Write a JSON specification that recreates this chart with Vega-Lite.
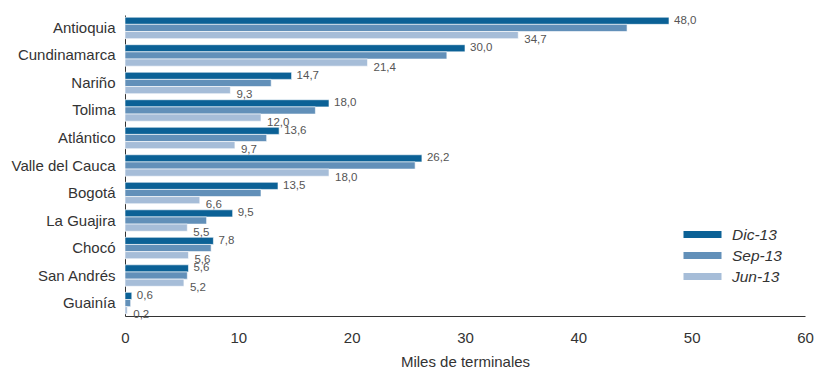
{
  "$schema": "https://vega.github.io/schema/vega-lite/v6.json",
  "width": 680,
  "height": 301,
  "autosize": "none",
  "padding": {"left": 125, "top": 15, "right": 10, "bottom": 53},
  "config": {
    "view": {"stroke": null},
    "font": "Liberation Sans",
    "locale": {"number": {"decimal": ",", "thousands": ".", "grouping": [3], "currency": ["$", ""]}}
  },
  "data": {
    "values": [
      {"depto": "Antioquia", "periodo": "Dic-13", "valor": 48.0},
      {"depto": "Antioquia", "periodo": "Sep-13", "valor": 44.3},
      {"depto": "Antioquia", "periodo": "Jun-13", "valor": 34.7},
      {"depto": "Cundinamarca", "periodo": "Dic-13", "valor": 30.0},
      {"depto": "Cundinamarca", "periodo": "Sep-13", "valor": 28.4},
      {"depto": "Cundinamarca", "periodo": "Jun-13", "valor": 21.4},
      {"depto": "Nariño", "periodo": "Dic-13", "valor": 14.7},
      {"depto": "Nariño", "periodo": "Sep-13", "valor": 12.9},
      {"depto": "Nariño", "periodo": "Jun-13", "valor": 9.3},
      {"depto": "Tolima", "periodo": "Dic-13", "valor": 18.0},
      {"depto": "Tolima", "periodo": "Sep-13", "valor": 16.8},
      {"depto": "Tolima", "periodo": "Jun-13", "valor": 12.0},
      {"depto": "Atlántico", "periodo": "Dic-13", "valor": 13.6},
      {"depto": "Atlántico", "periodo": "Sep-13", "valor": 12.5},
      {"depto": "Atlántico", "periodo": "Jun-13", "valor": 9.7},
      {"depto": "Valle del Cauca", "periodo": "Dic-13", "valor": 26.2},
      {"depto": "Valle del Cauca", "periodo": "Sep-13", "valor": 25.6},
      {"depto": "Valle del Cauca", "periodo": "Jun-13", "valor": 18.0},
      {"depto": "Bogotá", "periodo": "Dic-13", "valor": 13.5},
      {"depto": "Bogotá", "periodo": "Sep-13", "valor": 12.0},
      {"depto": "Bogotá", "periodo": "Jun-13", "valor": 6.6},
      {"depto": "La Guajira", "periodo": "Dic-13", "valor": 9.5},
      {"depto": "La Guajira", "periodo": "Sep-13", "valor": 7.2},
      {"depto": "La Guajira", "periodo": "Jun-13", "valor": 5.5},
      {"depto": "Chocó", "periodo": "Dic-13", "valor": 7.8},
      {"depto": "Chocó", "periodo": "Sep-13", "valor": 7.6},
      {"depto": "Chocó", "periodo": "Jun-13", "valor": 5.6},
      {"depto": "San Andrés", "periodo": "Dic-13", "valor": 5.6},
      {"depto": "San Andrés", "periodo": "Sep-13", "valor": 5.5},
      {"depto": "San Andrés", "periodo": "Jun-13", "valor": 5.2},
      {"depto": "Guainía", "periodo": "Dic-13", "valor": 0.6},
      {"depto": "Guainía", "periodo": "Sep-13", "valor": 0.5},
      {"depto": "Guainía", "periodo": "Jun-13", "valor": 0.2}
    ]
  },
  "encoding": {
    "y": {
      "field": "depto",
      "type": "nominal",
      "sort": ["Antioquia", "Cundinamarca", "Nariño", "Tolima", "Atlántico", "Valle del Cauca", "Bogotá", "La Guajira", "Chocó", "San Andrés", "Guainía"],
      "scale": {"paddingInner": 0.22, "paddingOuter": 0.08},
      "axis": {
        "title": null,
        "ticks": false,
        "labelPadding": 10,
        "labelFontSize": 15,
        "labelColor": "#333333",
        "labelLimit": 200,
        "domainColor": "#333333",
        "domainWidth": 1
      }
    },
    "yOffset": {"field": "periodo", "type": "nominal", "sort": ["Dic-13", "Sep-13", "Jun-13"]},
    "x": {
      "field": "valor",
      "type": "quantitative",
      "scale": {"domain": [0, 60]},
      "axis": {
        "values": [0, 10, 20, 30, 40, 50, 60],
        "format": "d",
        "ticks": false,
        "grid": false,
        "labelFlush": false,
        "labelPadding": 14,
        "labelFontSize": 15,
        "labelColor": "#333333",
        "domainColor": "#333333",
        "title": "Miles de terminales",
        "titleFontSize": 15,
        "titleFontWeight": "normal",
        "titleColor": "#333333",
        "titlePadding": 9
      }
    }
  },
  "layer": [
    {
      "mark": {"type": "bar", "stroke": "#ffffff", "strokeWidth": 0.6},
      "encoding": {
        "color": {
          "field": "periodo",
          "type": "nominal",
          "scale": {"domain": ["Dic-13", "Sep-13", "Jun-13"], "range": ["#0b6196", "#6290b9", "#a6bdd8"]},
          "legend": {
            "title": null,
            "orient": "none",
            "legendX": 568,
            "legendY": 210,
            "symbolType": "M-2,-0.36L2,-0.36L2,0.36L-2,0.36Z",
            "symbolSize": 361,
            "symbolStrokeWidth": 0,
            "labelFontSize": 15.5,
            "labelFontStyle": "italic",
            "labelColor": "#333333",
            "labelOffset": 20,
            "rowPadding": 3
          }
        }
      }
    },
    {
      "transform": [{"filter": "datum.periodo === 'Dic-13'"}],
      "mark": {"type": "text", "align": "left", "baseline": "middle", "dx": 5, "fontSize": 11.5, "color": "#555555"},
      "encoding": {"text": {"field": "valor", "type": "quantitative", "format": ".1f"}}
    },
    {
      "transform": [{"filter": "datum.periodo === 'Jun-13'"}],
      "mark": {"type": "text", "align": "left", "baseline": "middle", "dx": 6, "dy": 5, "fontSize": 11.5, "color": "#555555"},
      "encoding": {"text": {"field": "valor", "type": "quantitative", "format": ".1f"}}
    }
  ]
}
